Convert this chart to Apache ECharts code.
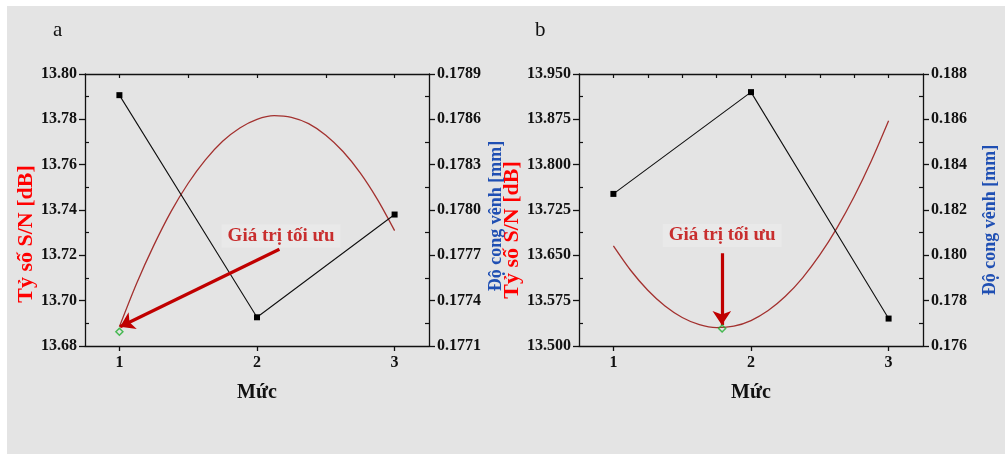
<!DOCTYPE html>
<html>
<head>
<meta charset="utf-8">
<script src="https://cdn.jsdelivr.net/npm/echarts@6/dist/echarts.min.js"></script>
<style>
  html, body { margin: 0; padding: 0; background: #fff; }
  #chart { width: 1005px; height: 454px; background: #e4e4e4; box-shadow: inset 7px 6px 0 #fff; }
</style>
</head>
<body>
<div id="chart"></div>
<script>
// levels (x) and measured warpage (right axis)
const levels = [1, 2, 3];
const warpA = [0.17876, 0.17729, 0.17797];
const warpB = [0.18271, 0.18720, 0.17721];

// S/N fitted curve (left axis)
const curveX = [1, 1.125, 1.25, 1.375, 1.5, 1.625, 1.75, 1.875, 2, 2.125, 2.25, 2.375, 2.5, 2.625, 2.75, 2.875, 3];
const snA = [13.6885, 13.7076, 13.7244, 13.7393, 13.7518, 13.7621, 13.7703, 13.7762, 13.7800,
             13.7816, 13.7809, 13.7781, 13.7730, 13.7658, 13.7564, 13.7447, 13.7309];
const snB = [13.6656, 13.6253, 13.5922, 13.5661, 13.5471, 13.5352, 13.5304, 13.5327, 13.5421,
             13.5586, 13.5822, 13.6128, 13.6506, 13.6955, 13.7474, 13.8065, 13.8726];

// optimum points
const optA = [1, 13.6863];
const optB = [1.79, 13.529];

// annotation arrows [from, to] and label anchor
const arrowA = [[2.163, 13.7227], [1.005, 13.6885]];
const arrowB = [[1.788, 13.6535], [1.788, 13.5348]];
const noteA = [2.175, 13.7285];
const noteB = [1.79, 13.6827];
const noteText = 'Giá trị tối ưu';

// tick labels
const xTicks = [1, 2, 3];
const xTopTicksA = [1, 1.5, 2, 2.5, 3];
const xTopTicksB = [1, 1.25, 1.5, 1.75, 2, 2.25, 2.5, 2.75, 3];
const snTicksA = [13.68, 13.70, 13.72, 13.74, 13.76, 13.78, 13.80];
const warpTicksA = [0.1771, 0.1774, 0.1777, 0.1780, 0.1783, 0.1786, 0.1789];
const snTicksB = [13.500, 13.575, 13.650, 13.725, 13.800, 13.875, 13.950];
const warpTicksB = [0.176, 0.178, 0.180, 0.182, 0.184, 0.186, 0.188];

const FONT = '"Liberation Serif", "DejaVu Serif", serif';
const RED = '#ff0000';
const BLUE = '#1f4fb3';
const CURVE = '#a3312f';
const NOTE = '#c00000';

function mids(arr) {
    let out = [];
    for (let i = 0; i < arr.length - 1; i++) out.push((arr[i] + arr[i + 1]) / 2);
    return out;
}

// shift: move the rotated title down the axis by that many px
function yMain(grid, pos, ticks, digits, name, color, size, gap, shift) {
    return {
        type: 'value', gridIndex: grid, position: pos,
        min: ticks[0], max: ticks[ticks.length - 1],
        splitLine: {show: false},
        axisLine: {show: true, lineStyle: {color: '#111', width: 1.3}},
        axisTick: {show: true, inside: false, length: 6, customValues: ticks, lineStyle: {color: '#111', width: 1.3}},
        axisLabel: {
            customValues: ticks, margin: 8,
            formatter: v => v.toFixed(digits),
            color: '#111', fontFamily: FONT, fontWeight: 'bold', fontSize: 16
        },
        name: name, nameLocation: 'middle', nameGap: gap,
        nameTextStyle: {color: color, fontFamily: FONT, fontWeight: 'bold', fontSize: size, padding: [0, shift * 2, 0, 0]}
    };
}

function yMinor(grid, pos, ticks) {
    return {
        type: 'value', gridIndex: grid, position: pos,
        min: ticks[0], max: ticks[ticks.length - 1],
        splitLine: {show: false},
        axisLine: {show: false},
        axisTick: {show: true, inside: true, length: 4, customValues: mids(ticks), lineStyle: {color: '#111', width: 1.2}},
        axisLabel: {show: false}
    };
}

function xBottom(grid) {
    return {
        type: 'value', gridIndex: grid, position: 'bottom', min: 0.75, max: 3.25,
        splitLine: {show: false},
        axisLine: {show: true, onZero: false, lineStyle: {color: '#111', width: 1.3}},
        axisTick: {show: true, inside: false, length: 5, customValues: xTicks, lineStyle: {color: '#111', width: 1.3}},
        axisLabel: {customValues: xTicks, margin: 9, color: '#111', fontFamily: FONT, fontWeight: 'bold', fontSize: 16},
        name: 'Mức', nameLocation: 'middle', nameGap: 37,
        nameTextStyle: {color: '#111', fontFamily: FONT, fontWeight: 'bold', fontSize: 20}
    };
}

function xTop(grid, ticks) {
    return {
        type: 'value', gridIndex: grid, position: 'top', min: 0.75, max: 3.25,
        splitLine: {show: false},
        axisLine: {show: true, onZero: false, lineStyle: {color: '#111', width: 1.3}},
        axisTick: {show: true, inside: true, length: 4, customValues: ticks, lineStyle: {color: '#111', width: 1.2}},
        axisLabel: {show: false}
    };
}

function panelSeries(xi, yl, yr, warp, sn, opt, arrow, note) {
    return [
        {
            type: 'line', xAxisIndex: xi, yAxisIndex: yl, smooth: 0.3, symbol: 'none',
            lineStyle: {color: CURVE, width: 1.3},
            data: curveX.map((x, i) => [x, sn[i]])
        },
        {
            type: 'line', xAxisIndex: xi, yAxisIndex: yr, symbol: 'rect', symbolSize: 6,
            itemStyle: {color: '#000'}, lineStyle: {color: '#111', width: 1.1},
            data: levels.map((x, i) => [x, warp[i]])
        },
        {
            type: 'lines', coordinateSystem: 'cartesian2d', xAxisIndex: xi, yAxisIndex: yl,
            symbol: ['none', 'arrow'], symbolSize: [12, 14],
            lineStyle: {color: NOTE, width: 3.2, opacity: 1},
            data: [{coords: arrow}], z: 4
        },
        {
            type: 'scatter', xAxisIndex: xi, yAxisIndex: yl, symbol: 'diamond', symbolSize: 7,
            itemStyle: {color: 'rgba(0,0,0,0)', borderColor: '#1fae2e', borderWidth: 1.5},
            data: [opt], z: 5
        },
        {
            type: 'scatter', xAxisIndex: xi, yAxisIndex: yl, symbolSize: 0,
            label: {
                show: true, position: 'inside', formatter: noteText,
                color: NOTE, fontFamily: FONT, fontWeight: 'bold', fontSize: 19,
                backgroundColor: '#eaeaea', padding: [2, 6]
            },
            data: [note], z: 6
        }
    ];
}

const chart = echarts.init(document.getElementById('chart'));
chart.setOption({
    animation: false,
    title: [
        {text: 'a', left: 48, top: 15, textStyle: {fontFamily: FONT, fontWeight: 'normal', fontSize: 21, color: '#111'}},
        {text: 'b', left: 530, top: 15, textStyle: {fontFamily: FONT, fontWeight: 'normal', fontSize: 21, color: '#111'}}
    ],
    grid: [
        {left: 85, top: 74, width: 344, height: 272},
        {left: 579, top: 74, width: 344, height: 272}
    ],
    xAxis: [xBottom(0), xTop(0, xTopTicksA), xBottom(1), xTop(1, xTopTicksB)],
    yAxis: [
        yMain(0, 'left', snTicksA, 2, 'Tỷ số S/N [dB]', RED, 22, 48, 24),
        yMain(0, 'right', warpTicksA, 4, 'Độ cong vênh [mm]', BLUE, 18, 58, 6),
        yMinor(0, 'left', snTicksA),
        yMinor(0, 'right', warpTicksA),
        yMain(1, 'left', snTicksB, 3, 'Tỷ số S/N [dB]', RED, 22, 48, 20),
        yMain(1, 'right', warpTicksB, 3, 'Độ cong vênh [mm]', BLUE, 18, 58, 10),
        yMinor(1, 'left', snTicksB),
        yMinor(1, 'right', warpTicksB)
    ],
    series: [].concat(
        panelSeries(0, 0, 1, warpA, snA, optA, arrowA, noteA),
        panelSeries(2, 4, 5, warpB, snB, optB, arrowB, noteB)
    )
});
</script>
</body>
</html>
